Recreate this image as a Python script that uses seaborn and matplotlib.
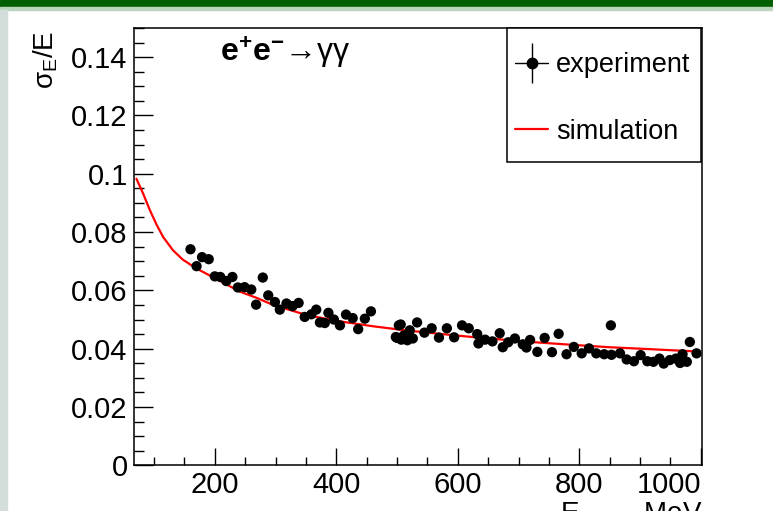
import numpy as np
import pandas as pd
import seaborn as sns
import matplotlib.pyplot as plt
from matplotlib.lines import Line2D
from matplotlib.patches import Rectangle
from matplotlib.legend_handler import HandlerTuple
from matplotlib.ticker import MultipleLocator, FuncFormatter

# experiment points (MeV, sigma_E/E)
exp_energy = [160, 170, 179, 190, 200, 209, 219, 229, 238, 249, 260, 268, 279, 288,
              299, 307, 318, 328, 338, 348, 359, 367, 373, 381, 387, 396, 406, 416,
              427, 436, 447, 457, 498, 500, 503, 506, 507, 511, 517, 521, 526, 533,
              545, 557, 569, 582, 594, 607, 618, 632, 634, 645, 657, 669, 674, 683,
              694, 707, 713, 719, 731, 743, 755, 766, 779, 791, 804, 816, 828, 841,
              852, 853, 867, 878, 890, 901, 912, 922, 932, 939, 949, 959, 966, 970,
              977, 982, 993]
exp_res = [0.0741, 0.0683, 0.0714, 0.0707, 0.0648, 0.0646, 0.0632, 0.0646, 0.0610, 0.0611,
           0.0603, 0.0551, 0.0644, 0.0583, 0.0560, 0.0534, 0.0555, 0.0546, 0.0557, 0.0509,
           0.0518, 0.0534, 0.0490, 0.0488, 0.0523, 0.0500, 0.0480, 0.0517, 0.0505, 0.0467,
           0.0503, 0.0528, 0.0440, 0.0437, 0.0480, 0.0483, 0.0431, 0.0445, 0.0429, 0.0463,
           0.0435, 0.0490, 0.0455, 0.0470, 0.0438, 0.0470, 0.0439, 0.0480, 0.0470, 0.0450,
           0.0418, 0.0431, 0.0425, 0.0453, 0.0405, 0.0422, 0.0435, 0.0415, 0.0404, 0.0430,
           0.0389, 0.0437, 0.0388, 0.0451, 0.0381, 0.0406, 0.0384, 0.0401, 0.0384, 0.0381,
           0.0480, 0.0379, 0.0384, 0.0363, 0.0357, 0.0378, 0.0357, 0.0355, 0.0366, 0.0349,
           0.0361, 0.0366, 0.0351, 0.0381, 0.0355, 0.0423, 0.0384]
exp_err = 0.0012

# simulation curve
sim_energy = [71, 82, 93, 104, 115, 131, 147, 169, 200, 241, 268, 295, 350, 405,
              460, 514, 570, 624, 680, 734, 790, 850, 920, 988]
sim_res = [0.0983, 0.0932, 0.0876, 0.0826, 0.0783, 0.0738, 0.0706, 0.0676, 0.0642,
           0.0596, 0.0575, 0.0551, 0.0516, 0.0494, 0.0477, 0.0463, 0.0451, 0.0440,
           0.0430, 0.0421, 0.0413, 0.0405, 0.0398, 0.0391]

exp_df = pd.DataFrame({'E': exp_energy, 'res': exp_res})
sim_df = pd.DataFrame({'E': sim_energy, 'res': sim_res})

sns.set_style("ticks")
plt.rcParams['font.family'] = ['Liberation Sans', 'DejaVu Sans']
plt.rcParams['mathtext.fontset'] = 'custom'
plt.rcParams['mathtext.rm'] = 'Liberation Sans'
plt.rcParams['mathtext.it'] = 'Liberation Sans:italic'
plt.rcParams['mathtext.bf'] = 'Liberation Sans:bold'
for k in ['text.color', 'axes.labelcolor', 'xtick.color', 'ytick.color']:
    plt.rcParams[k] = 'black'

W, H = 773, 511
fig = plt.figure(figsize=(W / 100, H / 100), dpi=100)
ax = fig.add_axes([134 / W, 1 - 465.3 / H, (702 - 134) / W, (465.3 - 28) / H])

# slide decoration
fig.patches.append(Rectangle((0, 1 - 7.4 / H), 1, 7.4 / H, transform=fig.transFigure,
                             color='#005f00', zorder=0))
fig.patches.append(Rectangle((0, 1 - 9.8 / H), 1, 2.4 / H, transform=fig.transFigure,
                             color='#b9d6bd', zorder=0))
fig.patches.append(Rectangle((0, 0), 7.3 / W, 1 - 9.8 / H, transform=fig.transFigure,
                             color='#d3dedb', zorder=0))

sns.lineplot(data=sim_df, x='E', y='res', ax=ax, color='red', lw=1.6, sort=False,
             estimator=None, zorder=3)
ax.errorbar(exp_df['E'], exp_df['res'], yerr=exp_err, fmt='none', ecolor='black',
            elinewidth=1, zorder=4)
sns.scatterplot(data=exp_df, x='E', y='res', ax=ax, color='black', s=55,
                edgecolor='none', zorder=5)

ax.set_xlim(67, 1002)
ax.set_ylim(0, 0.15)
ax.set_xlabel('')
ax.set_ylabel('')

ax.xaxis.set_major_locator(MultipleLocator(200))
ax.xaxis.set_minor_locator(MultipleLocator(50))
ax.yaxis.set_major_locator(MultipleLocator(0.02))
ax.yaxis.set_minor_locator(MultipleLocator(0.005))
ax.yaxis.set_major_formatter(FuncFormatter(lambda v, p: '%g' % round(v, 4)))

for s in ax.spines.values():
    s.set_linewidth(1.1)
    s.set_color('black')

ax.tick_params(axis='both', which='both', direction='in', width=1, color='black',
               labelsize=21, top=False, right=False)
ax.tick_params(axis='y', which='major', length=13.5, pad=4.5)
ax.tick_params(axis='y', which='minor', length=7)
ax.tick_params(axis='x', which='major', length=12, pad=4)
ax.tick_params(axis='x', which='minor', length=5.5)

# ROOT pulls the last x label inside the frame
fig.canvas.draw()
for t in ax.get_xticklabels():
    if t.get_text() == '1000':
        t.set_horizontalalignment('right')

# axis titles, ROOT style at the axis ends
fig.text(46 / W, 1 - 31 / H, r'$\mathregular{\sigma_{E}}$/E', rotation=90, ha='center',
         va='top', fontsize=20)
fig.text(702 / W, 1 - 500 / H, r'E$_{beam}$, MeV', ha='right', va='top', fontsize=20)

fig.text(220 / W, 1 - 62 / H, r'$\mathbf{e^{+}e^{-}}$→γγ', ha='left', va='baseline',
         fontsize=23)

# legend box
fig.patches.append(Rectangle((507 / W, 1 - 162 / H), (701 - 507) / W, (162 - 28) / H,
                             transform=fig.transFigure, facecolor='white',
                             edgecolor='black', lw=1.1, zorder=6))
h_exp = (Line2D([], [], color='black', lw=1, marker='o', markersize=7.5),
         Line2D([], [], color='black', lw=0, marker='|', markersize=29, markeredgewidth=1))
h_sim = Line2D([], [], color='red', lw=1.6)
leg = fig.legend([h_exp, h_sim], ['experiment', 'simulation'],
                 handler_map={tuple: HandlerTuple(ndivide=1)},
                 loc='center left', bbox_to_anchor=(515 / W, 1 - 98.5 / H),
                 bbox_transform=fig.transFigure, borderaxespad=0, borderpad=0,
                 fontsize=19.5, frameon=False, handlelength=1.22, handletextpad=0.3,
                 labelspacing=1.5)
leg.set_zorder(7)

fig.savefig('out.png', dpi=100)
